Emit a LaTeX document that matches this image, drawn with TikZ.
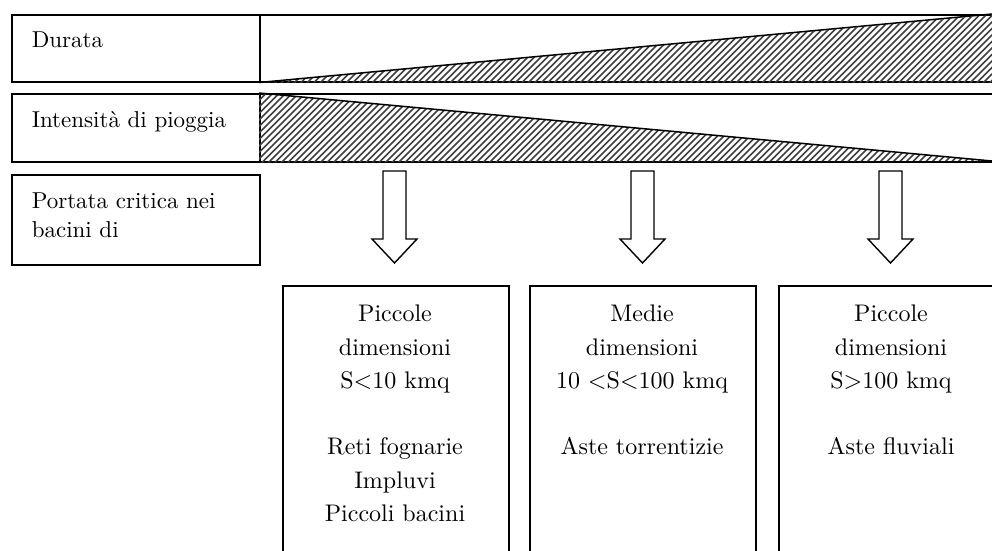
\documentclass[tikz,border=0pt]{standalone}
\usepackage{fontspec}
\setmainfont{lmroman10-regular}[Extension=.otf]
\begin{document}
\begin{tikzpicture}[x=1pt,y=-1pt,line width=1.5pt,
  labelbox/.style={draw,rectangle,inner sep=0pt,anchor=north west},
  labeltext/.style={inner sep=0pt,anchor=base west,align=left,
    font=\fontsize{23}{29}\selectfont},
  classbox/.style={draw,rectangle,inner sep=0pt,anchor=north west,
    minimum width=226pt,minimum height=300pt},
  classtext/.style={inner sep=0pt,anchor=base,align=center,
    font=\fontsize{24}{33.3}\selectfont},
  hatch/.style={line width=1.5pt,black!75},
  pics/downarrow/.style={code={
    \draw[line width=1.4pt,fill=white,line join=miter]
      (-11.5,0) -- (11.5,0) -- (11.5,68) -- (22.5,68) -- (0,92)
      -- (-22.5,68) -- (-11.5,68) -- cycle;}}]
\useasboundingbox (0,0) rectangle (992,550);
\clip (0,0) rectangle (992,550);

% band 1: duration grows from left to right
\node[labelbox,minimum width=248pt,minimum height=67pt] (durbox) at (11,14) {};
\node[labelbox,minimum width=740pt,minimum height=67pt] (durband) at (259,14) {};
\begin{scope}
  \clip (durband.south west) -- (durband.north east) -- (durband.south east) -- cycle;
  \foreach \i in {0,...,130}
    \draw[hatch] (170+\i*6.5,90) -- ++(90,-90);
\end{scope}
\draw (durband.south west) -- (992,14);
\node[labeltext] (durtext) at (31,47) {Durata};

% band 2: rain intensity decreases from left to right
\node[labelbox,minimum width=248pt,minimum height=68pt] (intbox) at (11,93) {};
\node[labelbox,minimum width=740pt,minimum height=68pt] (intband) at (259,93) {};
\begin{scope}
  \clip (intband.north west) -- (992,161) -- (intband.south west) -- cycle;
  \foreach \i in {0,...,130}
    \draw[hatch] (170+\i*6.5,170) -- ++(90,-90);
\end{scope}
\draw (intband.north west) -- (992,161);
\node[labeltext] (inttext) at (31,127) {Intensità di pioggia};

% critical discharge label (anchored on the baseline of its last line)
\node[labelbox,minimum width=248pt,minimum height=90pt] (portbox) at (11,174) {};
\node[labeltext] (porttext) at (31,237) {Portata critica nei\\bacini di};

% block arrows
\pic at (394.5,171) {downarrow};
\pic at (642.5,171) {downarrow};
\pic at (890.5,171) {downarrow};

% catchment classes
\node[classbox] (small) at (282,285) {};
\node[classbox] (medium) at (529,285) {};
\node[classbox] (large) at (778,285) {};

% texts anchored on the baseline of their last line
\node[classtext] (smalltext) at (395,521.5)
  {Piccole\\dimensioni\\S<10 kmq\\[33.3pt]Reti fognarie\\Impluvi\\Piccoli bacini};
\node[classtext] (mediumtext) at (642,454.9)
  {Medie\\dimensioni\\10 <S<100 kmq\\[33.3pt]Aste torrentizie};
\node[classtext] (largetext) at (891,454.9)
  {Piccole\\dimensioni\\S>100 kmq\\[33.3pt]Aste fluviali};
\end{tikzpicture}
\end{document}
